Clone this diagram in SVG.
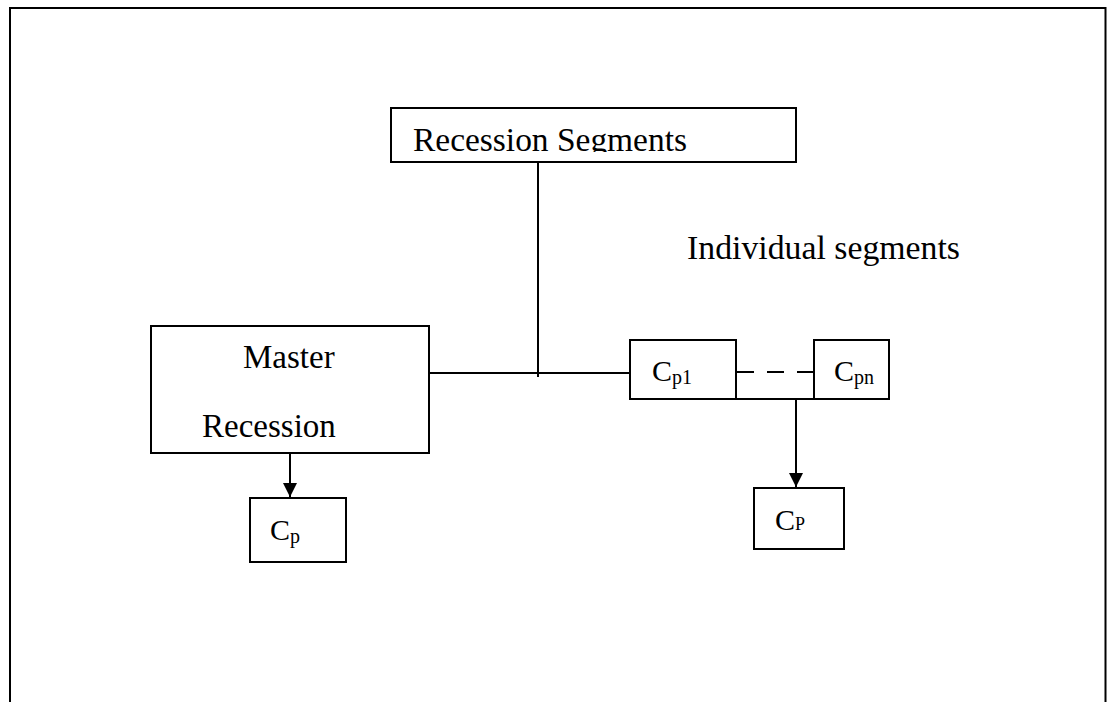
<svg xmlns="http://www.w3.org/2000/svg" width="1107" height="702" viewBox="0 0 1107 702">
<style>
.box{fill:#fff;stroke:#000;stroke-width:2}
.ln{fill:none;stroke:#000;stroke-width:2}
.t{font-family:"Liberation Serif","DejaVu Serif",serif;font-size:33px;fill:#000}
.c{font-family:"Liberation Serif","DejaVu Serif",serif;font-size:30px;fill:#000}
</style>
<defs>
<marker id="arr" markerUnits="userSpaceOnUse" markerWidth="14" markerHeight="16" refX="14" refY="7" orient="auto">
<path d="M0,0 L14,7 L0,14 Z" fill="#000"/>
</marker>
<clipPath id="rsclip"><rect x="392" y="109" width="403" height="43"/></clipPath>
</defs>
<rect width="1107" height="702" fill="#fff"/>
<path class="ln" d="M10,710 V8 H1105.5 V710"/>
<g id="connectors">
<line class="ln" x1="538" y1="162" x2="538" y2="377"/>
<line class="ln" x1="430" y1="373" x2="630" y2="373"/>
<line class="ln" x1="737" y1="372" x2="813" y2="372" stroke-dasharray="17,13"/>
<line class="ln" x1="736" y1="399" x2="826" y2="399" stroke="#333"/>
<line class="ln" x1="290" y1="453" x2="290" y2="497" marker-end="url(#arr)"/>
<line class="ln" x1="796" y1="399" x2="796" y2="487" marker-end="url(#arr)"/>
</g>
<g id="recession-segments">
<rect class="box" x="391" y="108" width="405" height="54"/>
<text class="t" x="413" y="151" textLength="274" lengthAdjust="spacingAndGlyphs" clip-path="url(#rsclip)">Recession Segments</text>
</g>
<g id="individual-segments-label">
<text class="t" x="687" y="259" textLength="273" lengthAdjust="spacingAndGlyphs">Individual segments</text>
</g>
<g id="master-recession">
<rect class="box" x="151" y="326" width="278" height="127"/>
<text class="t" x="243" y="368">Master</text>
<text class="t" x="202" y="437">Recession</text>
</g>
<g id="cp-left">
<rect class="box" x="250" y="498" width="96" height="64"/>
<text class="c" x="270" y="540">C<tspan font-size="20" dy="3">p</tspan></text>
</g>
<g id="cp1">
<rect class="box" x="630" y="340" width="106" height="59"/>
<text class="c" x="652" y="381">C<tspan font-size="20" dy="3">p1</tspan></text>
</g>
<g id="cpn">
<rect class="box" x="814" y="340" width="75" height="59"/>
<text class="c" x="834" y="381">C<tspan font-size="20" dy="3">pn</tspan></text>
</g>
<g id="cp-right">
<rect class="box" x="754" y="488" width="90" height="61"/>
<text class="c" x="775" y="530">C<tspan font-size="18">P</tspan></text>
</g>
</svg>
